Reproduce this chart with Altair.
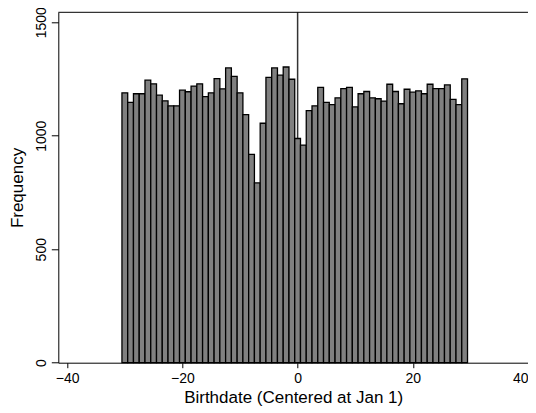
import altair as alt
import pandas as pd

# Histogram bins (bin centres, width 1) and their frequencies
bin_centers = list(range(-30, 30))
counts = [1189, 1147, 1185, 1185, 1245, 1229, 1179, 1154, 1132, 1132,
          1201, 1194, 1219, 1229, 1172, 1189, 1252, 1207, 1299, 1262,
          1189, 1093, 918, 792, 1055, 1257, 1299, 1267, 1303, 1249,
          988, 959, 1111, 1132, 1213, 1147, 1137, 1167, 1208, 1213,
          1127, 1185, 1195, 1167, 1163, 1153, 1227, 1195, 1141, 1205,
          1192, 1198, 1185, 1227, 1208, 1208, 1224, 1160, 1137, 1251]
cutoff = [0]
x_ticks = [-40, -20, 0, 20, 40]
y_ticks = [0, 500, 1000, 1500]

df = pd.DataFrame({"center": bin_centers, "count": counts})
cut_df = pd.DataFrame({"x": cutoff})

FONT = "Liberation Sans"
x_scale = alt.Scale(domain=[-41.55, 40.0], nice=False, zero=False)
y_scale = alt.Scale(domain=[0, 1544], nice=False, zero=True)

bars = (
    alt.Chart(df)
    .transform_calculate(lo="datum.center - 0.5", hi="datum.center + 0.5")
    .mark_bar(fill="#808080", stroke="#000000", strokeWidth=1.3)
    .encode(
        x=alt.X("lo:Q", scale=x_scale,
                axis=alt.Axis(values=x_ticks, title="Birthdate (Centered at Jan 1)",
                              grid=False, labelFlush=True, labelFlushOffset=0,
                              labelOverlap=False,
                              tickSize=5, labelPadding=4, titlePadding=4,
                              labelFontSize=14, titleFontSize=17,
                              titleFontWeight="normal", labelFont=FONT, titleFont=FONT,
                              domainColor="#000000", tickColor="#000000",
                              labelColor="#000000", titleColor="#000000")),
        x2="hi:Q",
        y=alt.Y("count:Q", scale=y_scale,
                axis=alt.Axis(values=y_ticks, title="Frequency", grid=False, format="d",
                              labelAngle=270, labelAlign="center", labelBaseline="bottom",
                              labelOverlap=False, labelFlush=False,
                              tickSize=7, labelPadding=3, titlePadding=8,
                              labelFontSize=14, titleFontSize=17,
                              titleFontWeight="normal", labelFont=FONT, titleFont=FONT,
                              domainColor="#000000", tickColor="#000000",
                              labelColor="#000000", titleColor="#000000")),
        y2=alt.datum(0),
    )
)

vline = (
    alt.Chart(cut_df)
    .mark_rule(color="#333333", strokeWidth=1.5)
    .encode(x=alt.X("x:Q", scale=x_scale))
)

top_frame = (
    alt.Chart(cut_df)
    .mark_rule(color="#000000", strokeWidth=1)
    .encode(y=alt.value(0))
)

chart = (
    alt.layer(vline, bars, top_frame)
    .properties(
        width=469.7,
        height=350.4,
        autosize=alt.AutoSizeParams(type="none"),
        padding={"left": 50.3, "top": 4.3, "right": 0, "bottom": 48},
        background="#ffffff",
    )
    .configure_view(stroke=None)
)

chart.save("out.html", embed_options={"renderer": "svg", "actions": False})
